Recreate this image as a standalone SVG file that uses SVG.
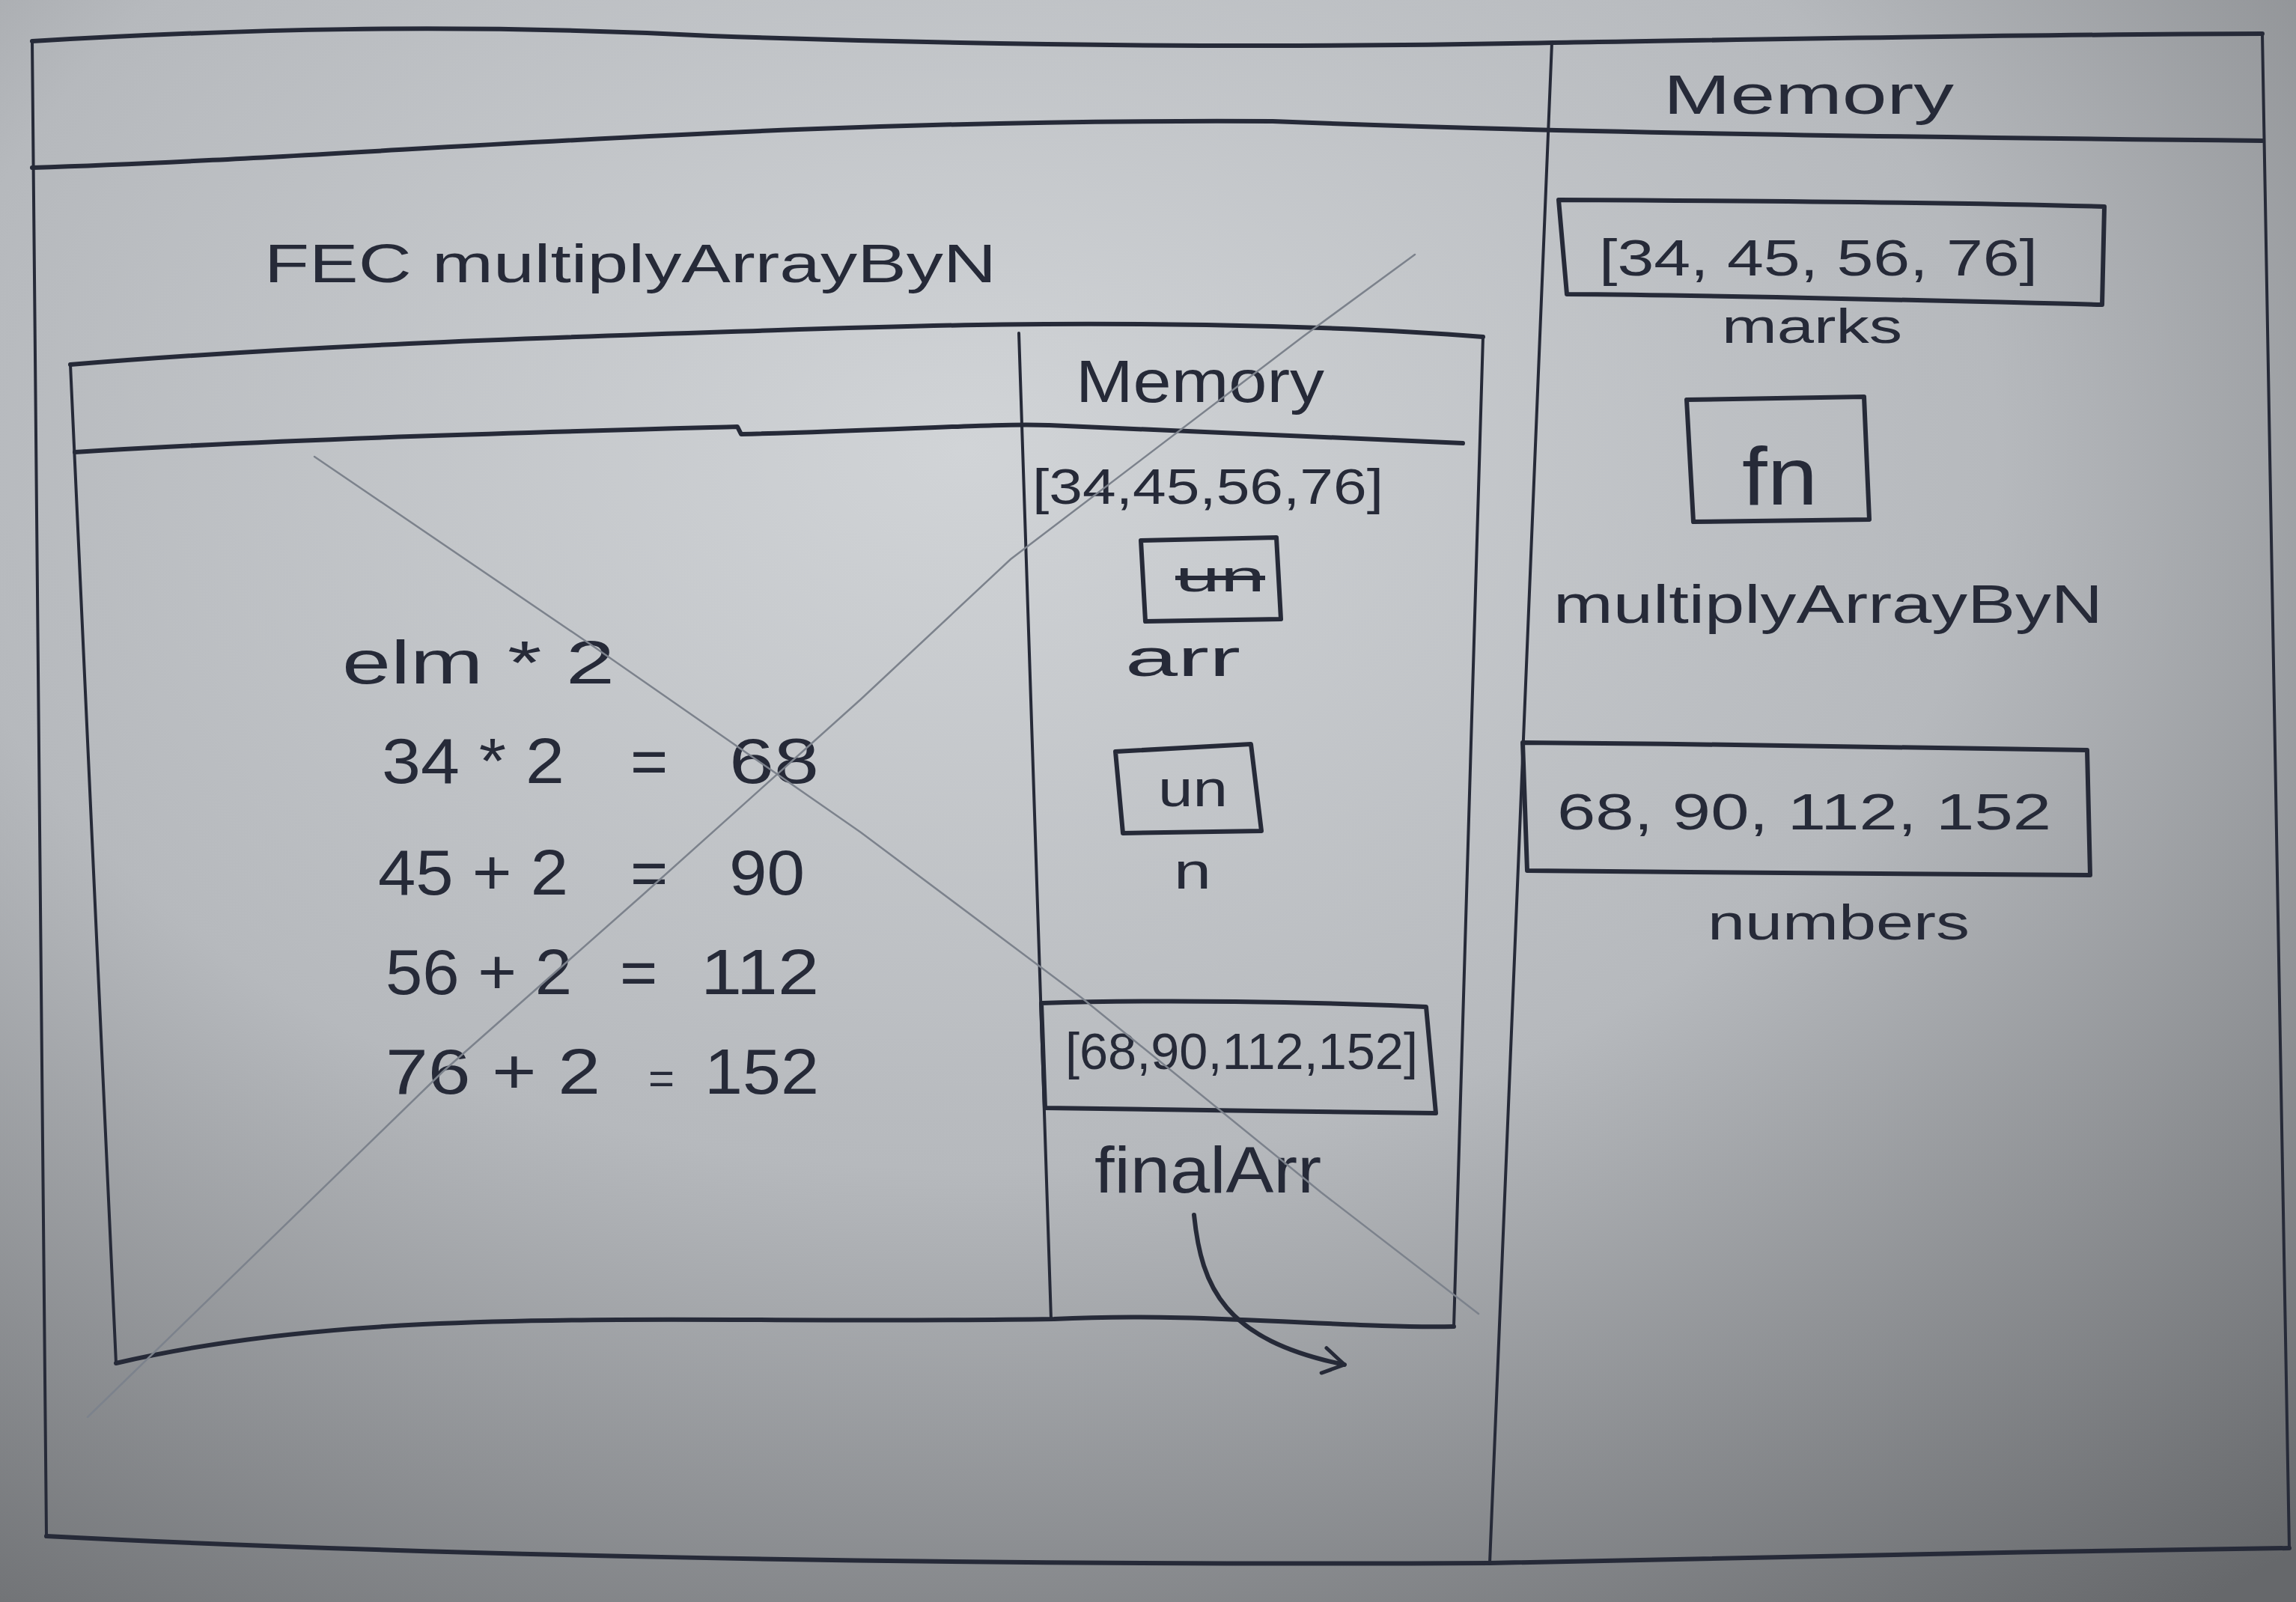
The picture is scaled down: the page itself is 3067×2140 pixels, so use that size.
<svg xmlns="http://www.w3.org/2000/svg" width="3067" height="2140" viewBox="0 0 3067 2140">
<defs>
<radialGradient id="paper" cx="0.42" cy="0.28" r="0.9">
<stop offset="0" stop-color="#d1d4d7"/>
<stop offset="0.5" stop-color="#b6b9bd"/>
<stop offset="1" stop-color="#66686b"/>
</radialGradient>
<marker id="chev" viewBox="0 0 40 40" refX="36" refY="20" markerWidth="40" markerHeight="40" orient="auto" markerUnits="userSpaceOnUse">
<path d="M8,3 L36,20 L8,37" fill="none" stroke="#262a38" stroke-width="5" stroke-linecap="round" stroke-linejoin="round"/>
</marker>
<style>
.ink{fill:none;stroke:#262a38;stroke-width:6;stroke-linecap:round;stroke-linejoin:round}
.thin{fill:none;stroke:#262a38;stroke-width:4;stroke-linecap:round;stroke-linejoin:round}
.pencil{fill:none;stroke:#7c828c;stroke-width:2.5;stroke-linecap:round}
.t{font-family:"Liberation Sans",Arial,sans-serif;fill:#262a38}
.strike{text-decoration:line-through}
</style>
</defs>
<rect width="3067" height="2140" fill="url(#paper)"/>

<g id="global-ec">
<path class="ink" d="M43,55 C300,40 600,30 950,48 C1300,60 1700,65 2075,57 C2400,52 2700,46 3022,45"/>
<path class="thin" d="M43,55 L62,2052"/>
<path class="thin" d="M3022,45 L3058,2068"/>
<path class="ink" d="M62,2052 C500,2075 1200,2092 1990,2088 C2400,2080 2700,2072 3058,2068"/>
<path class="ink" d="M43,224 C500,210 1000,158 1700,162 C1900,170 2200,180 3022,188"/>
<path class="thin" d="M2073,57 L1990,2088"/>
</g>

<g id="global-memory-title">
<text class="t" x="2222" y="152" font-size="74" textLength="388" lengthAdjust="spacingAndGlyphs">Memory</text>
</g>

<g id="marks">
<path class="ink" d="M2082,267 C2300,268 2600,270 2811,276 L2808,407 C2600,402 2300,394 2093,393 Z"/>
<text class="t" x="2136" y="368" font-size="68" textLength="586" lengthAdjust="spacingAndGlyphs">[34, 45, 56, 76]</text>
<text class="t" x="2300" y="458" font-size="64" textLength="241" lengthAdjust="spacingAndGlyphs">marks</text>
</g>

<g id="multiplyArrayByN-fn">
<path class="ink" d="M2253,534 L2490,530 L2497,694 L2262,697 Z"/>
<text class="t" x="2327" y="674" font-size="110" textLength="101" lengthAdjust="spacingAndGlyphs">fn</text>
<text class="t" x="2075" y="832" font-size="72" textLength="734" lengthAdjust="spacingAndGlyphs">multiplyArrayByN</text>
</g>

<g id="numbers">
<path class="ink" d="M2034,992 C2300,994 2600,998 2788,1002 L2792,1169 C2600,1167 2300,1166 2040,1163 Z"/>
<text class="t" x="2080" y="1108" font-size="68" textLength="660" lengthAdjust="spacingAndGlyphs">68, 90, 112, 152</text>
<text class="t" x="2281" y="1255" font-size="66" textLength="350" lengthAdjust="spacingAndGlyphs">numbers</text>
</g>

<g id="fec-box">
<text class="t" x="353" y="377" font-size="72" textLength="978" lengthAdjust="spacingAndGlyphs">FEC multiplyArrayByN</text>
<path class="ink" d="M94,487 C400,462 700,452 977,443 C1200,436 1400,428 1700,436 C1850,440 1930,446 1981,450"/>
<path class="thin" d="M94,487 L155,1821"/>
<path class="thin" d="M1981,450 L1942,1772"/>
<path class="ink" d="M155,1821 C500,1740 900,1770 1408,1762 C1600,1752 1800,1775 1942,1772"/>
<path class="ink" d="M100,604 C400,585 800,575 985,570 L990,580 C1200,575 1330,565 1400,568 C1600,575 1800,585 1954,592"/>
<path class="thin" d="M1361,445 L1404,1762"/>
</g>

<g id="fec-memory-title">
<text class="t" x="1437" y="537" font-size="80" textLength="332" lengthAdjust="spacingAndGlyphs">Memory</text>
</g>

<g id="arr">
<text class="t" x="1379" y="673" font-size="66" textLength="469" lengthAdjust="spacingAndGlyphs">[34,45,56,76]</text>
<path class="ink" d="M1524,722 L1705,718 L1711,827 L1530,830 Z"/>
<text class="t strike" x="1570" y="790" font-size="60" textLength="120" lengthAdjust="spacingAndGlyphs">un</text>
<text class="t" x="1503" y="903" font-size="70" textLength="154" lengthAdjust="spacingAndGlyphs">arr</text>
</g>

<g id="n">
<path class="ink" d="M1490,1004 L1671,994 L1685,1110 L1500,1113 Z"/>
<text class="t" x="1547" y="1077" font-size="68" textLength="93" lengthAdjust="spacingAndGlyphs">un</text>
<text class="t" x="1568" y="1187" font-size="68" textLength="50" lengthAdjust="spacingAndGlyphs">n</text>
</g>

<g id="finalArr">
<path class="ink" d="M1391,1340 C1550,1335 1750,1338 1905,1345 L1918,1487 C1750,1485 1550,1482 1396,1480 Z"/>
<text class="t" x="1423" y="1428" font-size="68" textLength="471" lengthAdjust="spacingAndGlyphs">[68,90,112,152]</text>
<text class="t" x="1462" y="1593" font-size="88" textLength="303" lengthAdjust="spacingAndGlyphs">finalArr</text>
</g>

<g id="calculations">
<text class="t" x="457" y="913" font-size="82" textLength="364" lengthAdjust="spacingAndGlyphs">elm * 2</text>
<text class="t" y="1046" font-size="86"><tspan x="510" textLength="244" lengthAdjust="spacingAndGlyphs">34 * 2</tspan><tspan x="842">=</tspan><tspan x="974" textLength="120" lengthAdjust="spacingAndGlyphs">68</tspan></text>
<text class="t" y="1195" font-size="86"><tspan x="505" textLength="254" lengthAdjust="spacingAndGlyphs">45 + 2</tspan><tspan x="842">=</tspan><tspan x="974" textLength="101" lengthAdjust="spacingAndGlyphs">90</tspan></text>
<text class="t" y="1328" font-size="86"><tspan x="515" textLength="249" lengthAdjust="spacingAndGlyphs">56 + 2</tspan><tspan x="828">=</tspan><tspan x="936" textLength="158" lengthAdjust="spacingAndGlyphs">112</tspan></text>
<text class="t" y="1461" font-size="86"><tspan x="515" textLength="287" lengthAdjust="spacingAndGlyphs">76 + 2</tspan><tspan x="866" font-size="60">=</tspan><tspan x="941" textLength="153" lengthAdjust="spacingAndGlyphs">152</tspan></text>
</g>

<g id="pencil-cross">
<path class="pencil" d="M117,1893 L591,1432 L859,1195 L1150,934 L1350,747 L1740,450 L1890,340"/>
<path class="pencil" d="M420,610 L792,863 L1150,1112 L1445,1333 L1765,1593 L1975,1755"/>
</g>

<g id="connectors">
<path class="ink" d="M1595,1623 C1605,1720 1635,1790 1796,1823" marker-end="url(#chev)"/>
</g>
</svg>
